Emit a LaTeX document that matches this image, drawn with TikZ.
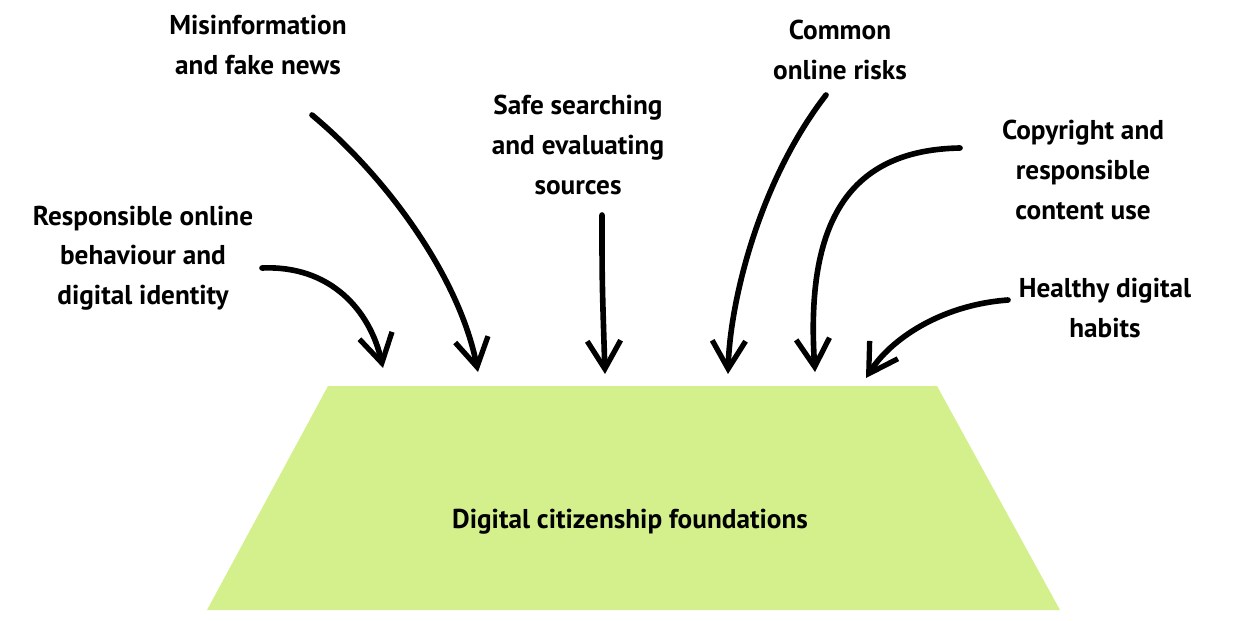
\documentclass[tikz,border=0pt]{standalone}
\usepackage{fontspec}
\setmainfont{PT Sans}
\usetikzlibrary{arrows.meta}
\definecolor{lgreen}{HTML}{D4F08C}
\begin{document}
\begin{tikzpicture}[x=0.02cm,y=-0.02cm,
  lbl/.style={align=center,font=\fontsize{15.5}{22.5}\selectfont\bfseries},
  arr/.style={line width=3.2pt,line cap=round,-{Straight Barb[length=16pt,width=19pt,line width=3pt]}}]
\useasboundingbox (0,0) rectangle (1253,621);
\fill[lgreen] (328,386) -- (937,386) -- (1060,610) -- (207,610) -- cycle;
\node[lbl] (base) at (630,522) {Digital citizenship foundations};
\node[lbl] (mis) at (258,45) {Misinformation\\and fake news};
\node[lbl] (safe) at (578,145) {Safe searching\\and evaluating\\sources};
\node[lbl] (com) at (840,50) {Common\\online risks};
\node[lbl] (copy) at (1083,170) {Copyright and\\responsible\\content use};
\node[lbl] (resp) at (143,258) {Responsible online\\behaviour and\\digital identity};
\node[lbl] (heal) at (1105,308) {Healthy digital\\habits};
\coordinate (a1) at (262,268); \coordinate (b1) at (383,368);
\coordinate (a2) at (312,115); \coordinate (b2) at (478,372);
\coordinate (a3) at (602,215); \coordinate (b3) at (605,374);
\coordinate (a4) at (826,95);  \coordinate (b4) at (728,374);
\coordinate (a5) at (960,148); \coordinate (b5) at (815,372);
\coordinate (a6) at (1008,300);\coordinate (b6) at (866,378);
\draw[arr] (a1) .. controls (330,265) and (370,310) .. (b1);
\draw[arr] (a2) .. controls (390,180) and (460,280) .. (b2);
\draw[arr] (a3) .. controls (602,280) .. (b3);
\draw[arr] (a4) .. controls (760,180) and (730,300) .. (b4);
\draw[arr] (a5) .. controls (850,150) and (805,220) .. (b5);
\draw[arr] (a6) .. controls (940,305) and (890,340) .. (b6);
\end{tikzpicture}
\end{document}
